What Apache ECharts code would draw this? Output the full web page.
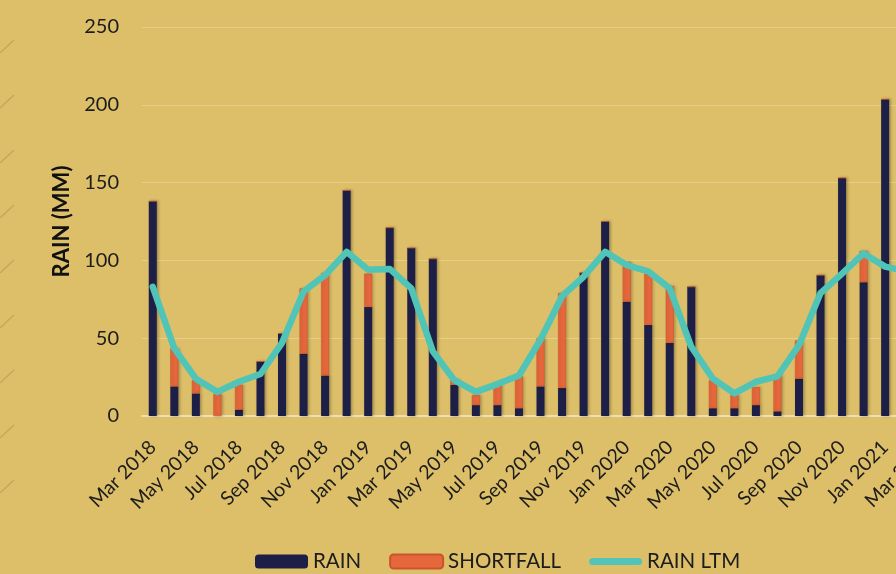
<!DOCTYPE html>
<html>
<head>
<meta charset="utf-8">
<script src="https://cdn.jsdelivr.net/npm/echarts@6/dist/echarts.min.js"></script>
<style>
html,body{margin:0;padding:0;background:#DDBF69;}
#chart{width:896px;height:574px;}
</style>
</head>
<body>
<div id="chart"></div>
<script>
var categories = ['Mar 2018','Apr 2018','May 2018','Jun 2018','Jul 2018','Aug 2018','Sep 2018','Oct 2018','Nov 2018','Dec 2018',
  'Jan 2019','Feb 2019','Mar 2019','Apr 2019','May 2019','Jun 2019','Jul 2019','Aug 2019','Sep 2019','Oct 2019','Nov 2019','Dec 2019',
  'Jan 2020','Feb 2020','Mar 2020','Apr 2020','May 2020','Jun 2020','Jul 2020','Aug 2020','Sep 2020','Oct 2020','Nov 2020','Dec 2020',
  'Jan 2021','Feb 2021','Mar 2021'];
var rain = [138,19,14.5,0,4,35,53,40,26,145,
  70,121,108,101,20,7,7,5,19,18,92,125,
  73.5,58.5,47,83,5,5,7,3,24,90.5,153,86,
  203.5,null,null];
var shortfall = [0,24.5,8.5,14,16,0,0,42,66,0,
  21.5,0,0,0,3.5,6.5,14,20.5,31,61,0,0,
  25.5,33,36.5,0,18,8.5,11.5,23.5,24.5,0,0,20,
  0,null,null];
var rainLtm = [83,43.5,24,15.5,22,27,47,80,90.5,105.5,
  94,94.5,82,41.5,23,15.5,20.5,26,49,77,89.5,105.5,
  97,93,82,44.5,24,14.5,22,25.5,45.5,79,91.5,104.5,
  96,93,82];
var yTicks = [0,50,100,150,200,250];

var FONT = 'Lato';
var chart = echarts.init(document.getElementById('chart'), null, {renderer:'canvas'});

var deco = [];
for (var k = 0; k < 9; k++) {
  var y0 = 40 + k * 55;
  deco.push({type:'line', shape:{x1:0, y1:y0 + 13, x2:14, y2:y0},
    style:{stroke:'rgba(150,125,70,0.35)', lineWidth:1.5}, silent:true});
}

var lineIcon = 'path://M3.5,0 L49.5,0 A3.5,3.5 0 0 1 49.5,7 L3.5,7 A3.5,3.5 0 0 1 3.5,0 Z';

chart.setOption({
  backgroundColor:'#DDBF69',
  animation:false,
  textStyle:{fontFamily:FONT},
  graphic:deco,
  grid:{left:142, right:-43, top:27, bottom:158, containLabel:false, outerBoundsMode:'none'},
  legend:{
    left:250, top:546, itemWidth:53, itemHeight:14, itemGap:28,
    textStyle:{fontFamily:FONT, fontSize:20.5, color:'#1c1c1c'},
    data:[{name:'RAIN'},{name:'SHORTFALL'},{name:'RAIN LTM', icon:lineIcon}]
  },
  xAxis:{
    type:'category', data:categories, boundaryGap:true,
    axisLine:{show:true, lineStyle:{color:'#EEDFB2', width:2}},
    axisTick:{show:false},
    axisLabel:{interval:1, rotate:45, margin:28, fontFamily:FONT, fontSize:19.5, color:'#1c1c1c'}
  },
  yAxis:{
    type:'value', min:yTicks[0], max:yTicks[yTicks.length-1], interval:50,
    name:'RAIN (MM)', nameLocation:'middle', nameGap:69,
    nameTextStyle:{fontFamily:FONT, fontSize:22, fontWeight:'bold', color:'#111'},
    axisLine:{show:false}, axisTick:{show:false},
    axisLabel:{margin:23, fontFamily:FONT, fontSize:20, color:'#1c1c1c'},
    splitLine:{lineStyle:{color:'rgba(240,220,160,0.55)', width:1}}
  },
  series:[
    {name:'RAIN', type:'bar', stack:'r', barWidth:8, data:rain,
     itemStyle:{color:'#1E1F47', shadowColor:'rgba(0,0,0,0.3)', shadowBlur:3, shadowOffsetX:1.5, shadowOffsetY:0}},
    {name:'SHORTFALL', type:'bar', stack:'r', barWidth:8, data:shortfall,
     itemStyle:{color:'#E6673B', borderColor:'#C9542E', borderWidth:0.5, shadowColor:'rgba(0,0,0,0.25)', shadowBlur:3, shadowOffsetX:1.5}},
    {name:'RAIN LTM', type:'line', data:rainLtm, symbol:'none', z:5,
     lineStyle:{color:'#50C4B6', width:6.5, cap:'round', join:'round'},
     itemStyle:{color:'#50C4B6'}}
  ]
});
</script>
</body>
</html>
